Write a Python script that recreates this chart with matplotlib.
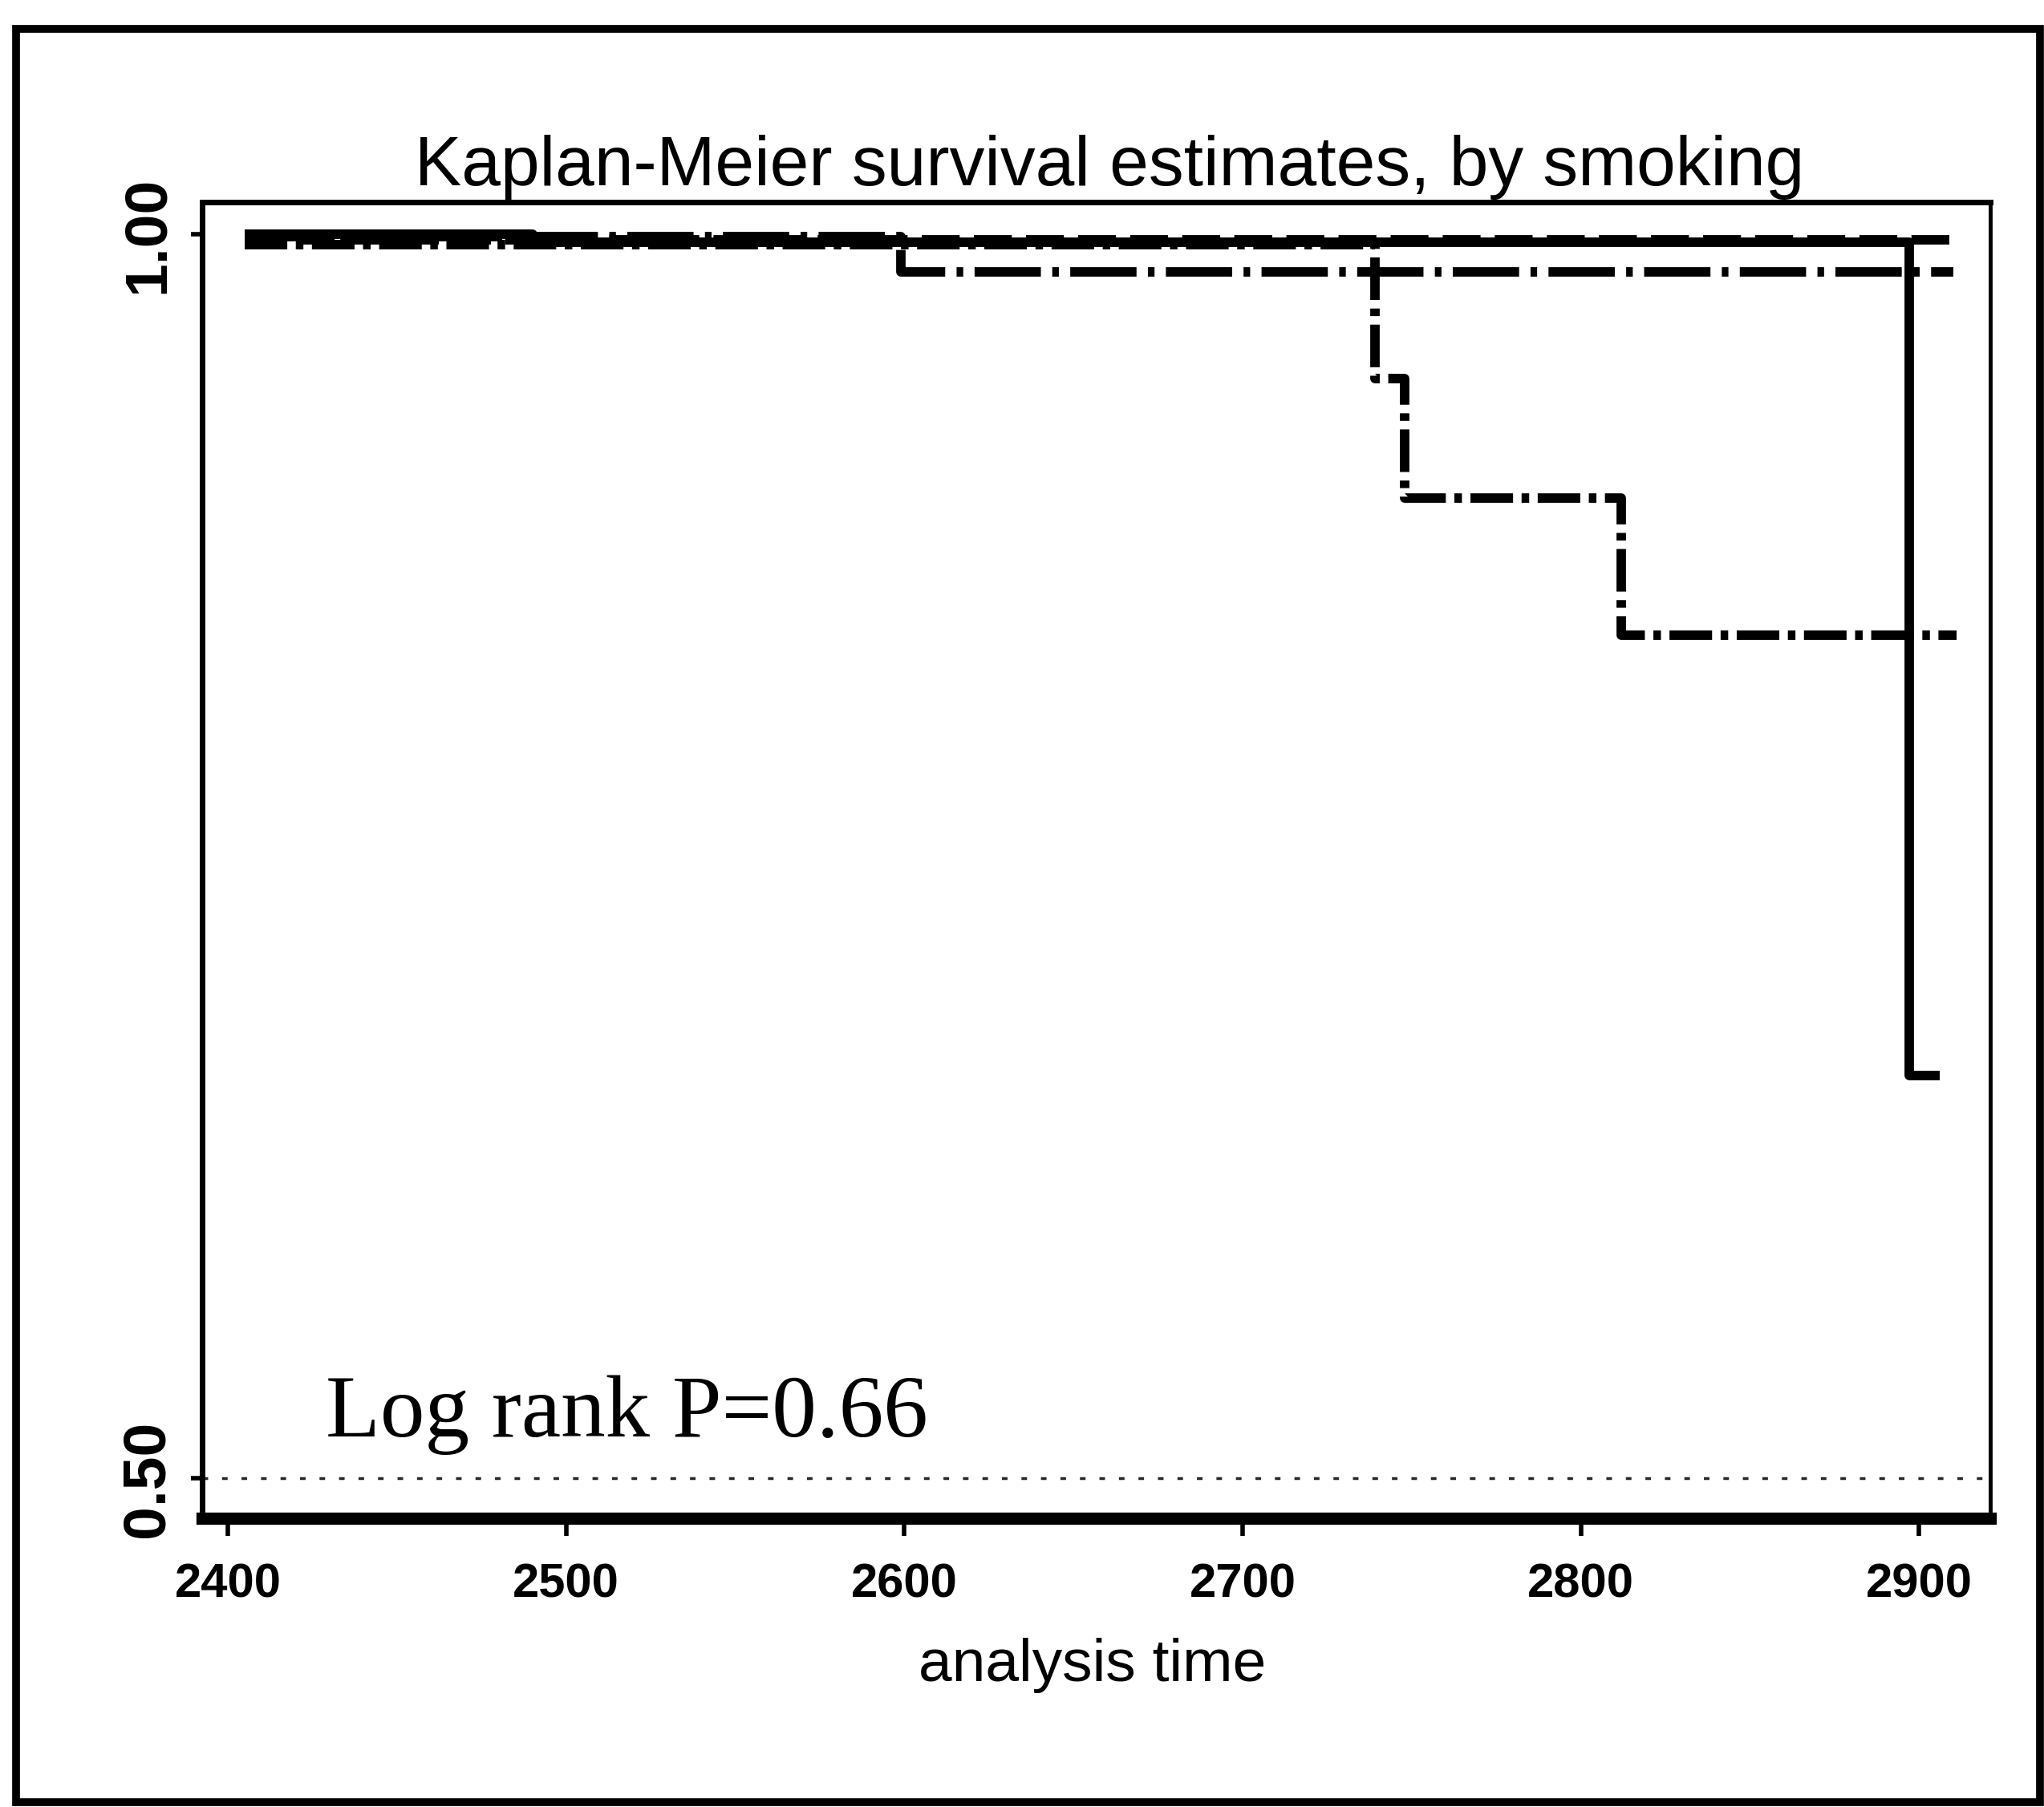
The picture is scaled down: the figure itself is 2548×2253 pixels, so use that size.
import matplotlib
matplotlib.use("Agg")
import matplotlib.pyplot as plt
from matplotlib.patches import Rectangle

# Kaplan-Meier step curves (analysis time, survivor function)
t_never = [2405, 2490, 2897, 2906]
s_never = [1.000, 0.997, 0.662, 0.662]

t_former = [2405, 2910]
s_former = [0.998, 0.998]

t_current = [2405, 2599, 2910]
s_current = [0.999, 0.985, 0.985]

t_heavy = [2405, 2739, 2748, 2812, 2911]
s_heavy = [0.996, 0.942, 0.894, 0.839, 0.839]

x_ticks = [2400, 2500, 2600, 2700, 2800, 2900]
y_ticks = [0.50, 1.00]
y_ticklabels = ["0.50", "1.00"]

title = "Kaplan-Meier survival estimates, by smoking"
x_label = "analysis time"
logrank_note = "Log rank P=0.66"

W, H = 2548, 2253
fig = plt.figure(figsize=(W / 100, H / 100), dpi=100)
fig.patch.set_facecolor("white")

narrow = ["Liberation Sans Narrow", "Liberation Sans", "DejaVu Sans"]

ax = fig.add_axes([252 / W, 1 - 1893 / H, (2481 - 252) / W, (1893 - 252) / H])
ax.set_xlim(2392.4, 2921)
ax.set_ylim(0.484, 1.013)

lw = 8.5
ax.step(t_never, s_never, where="post", color="black", lw=lw, solid_capstyle="butt")
ax.step(t_former, s_former, where="post", color="black", lw=lw,
        linestyle=(0, (4, 1.5)))
ax.step(t_current, s_current, where="post", color="black", lw=lw,
        linestyle=(0, (7, 1.2, 0.7, 1.2)))
ax.step(t_heavy, s_heavy, where="post", color="black", lw=lw,
        linestyle=(0, (4.5, 0.9, 0.8, 0.9)))

# faint remnant of the grid line at the bottom tick
ax.axhline(0.5, color="black", lw=2.5, linestyle=(0, (2, 5)), alpha=0.85)

ax.set_xticks(x_ticks)
ax.set_xticklabels([str(v) for v in x_ticks], family=narrow, fontsize=43,
                   fontweight="bold")
ax.set_yticks(y_ticks)
ax.set_yticklabels(y_ticklabels, family=narrow, fontsize=54, fontweight="bold",
                   rotation=90, va="center")
ax.tick_params(axis="x", direction="out", length=16, width=4, pad=24)
ax.tick_params(axis="y", direction="out", length=10, width=4, pad=14)

for side, w in [("left", 5), ("top", 5), ("right", 3.5), ("bottom", 11)]:
    ax.spines[side].set_linewidth(w)

ax.text(406, H - 1791, logrank_note, transform=None,
        family=["Liberation Serif", "DejaVu Serif"],
        fontsize=80, ha="left", va="baseline")

fig.text(1383 / W, 1 - 231 / H, title, family=narrow, fontsize=63,
         ha="center", va="baseline")
fig.text(1362 / W, 1 - 2096 / H, x_label, family=narrow, fontsize=54,
         ha="center", va="baseline")

# outer border of the graph region
fig.patches.append(Rectangle((20 / W, 1 - 2247 / H), (2543 - 20) / W, (2247 - 36) / H,
                             transform=fig.transFigure, fill=False,
                             edgecolor="black", linewidth=7))

fig.savefig("out.png", dpi=100)
